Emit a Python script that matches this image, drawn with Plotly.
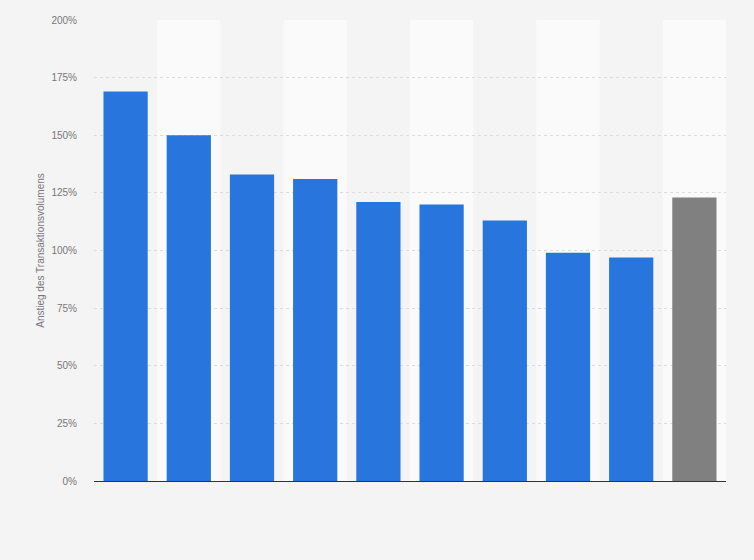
import plotly.graph_objects as go

categories = ["K1", "K2", "K3", "K4", "K5", "K6", "K7", "K8", "K9", "K10"]
values = [169, 150, 133, 131, 121, 120, 113, 99, 97, 123]
colors = ["#2876dd"] * 9 + ["#808080"]
y_ticks = [0, 25, 50, 75, 100, 125, 150, 175, 200]
y_tick_labels = [f"{v}%" for v in y_ticks]

fig = go.Figure()
fig.add_trace(go.Bar(
    x=categories, y=values, marker=dict(color=colors, line=dict(width=0)),
    width=0.7, hoverinfo="x+y",
))

shapes = []
for i in range(len(categories)):
    if i % 2 == 1:
        shapes.append(dict(type="rect", xref="x", yref="paper",
                           x0=i - 0.5, x1=i + 0.5, y0=0, y1=1,
                           fillcolor="#fafafa", line=dict(width=0), layer="below"))

fig.update_layout(
    width=754, height=560,
    margin=dict(l=94, r=28, t=20, b=79),
    paper_bgcolor="#f4f4f4", plot_bgcolor="#f4f4f4",
    showlegend=False,
    shapes=shapes,
    font=dict(family="Arial, Liberation Sans, sans-serif", color="#666666", size=10),
    xaxis=dict(showticklabels=False, showgrid=False, showline=True,
               linecolor="#333333", linewidth=1, ticks="",
               range=[-0.5, len(categories) - 0.5]),
    yaxis=dict(range=[0, 200], tickvals=y_ticks, ticktext=y_tick_labels,
               showgrid=True, gridcolor="#dcdcdc", griddash="dot", gridwidth=1,
               zeroline=False, ticks="", ticklabelstandoff=16,
               tickfont=dict(color="#777777"),
               title=dict(text="Anstieg des Transaktionsvolumens",
                          font=dict(size=10, color="#777777"), standoff=4)),
)

fig.write_html(
    "out.html",
    config={"displayModeBar": False},
    post_script="document.body.style.margin='0';document.body.style.background='#f4f4f4';",
)
